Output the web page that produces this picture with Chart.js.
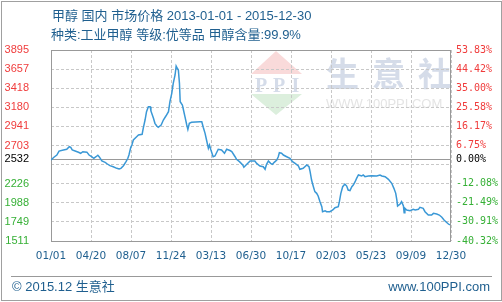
<!DOCTYPE html>
<html lang="zh">
<head>
<meta charset="UTF-8">
<title>甲醇 国内 市场价格</title>
<script src="https://cdn.jsdelivr.net/npm/chart.js"></script>
<style>
  html, body { margin: 0; padding: 0; background: #fff; }
  .wrap { position: relative; width: 502px; height: 302px; overflow: hidden;
          font-family: "Liberation Sans", "Noto Sans CJK SC", sans-serif; color: #1f5f8f; }
  .frame { position: absolute; left: 1px; top: 1px; width: 501px; height: 300px;
           box-sizing: border-box; border: 1px solid #a0a0a0; }
  #chart { position: absolute; left: 0; top: 0; }
  .txt { position: absolute; font-size: 13px; line-height: 16px; white-space: nowrap; }
  .sep { position: absolute; left: 11px; top: 276px; width: 481px; height: 1px; background: #999; }
</style>
</head>
<body>
<div class="wrap">
  <div class="frame"></div>
  <canvas id="chart" width="502" height="302"></canvas>
  <div class="txt" style="left:52px; top:8px;">甲醇 国内 市场价格 2013-01-01 - 2015-12-30</div>
  <div class="txt" style="left:51px; top:27px;">种类:工业甲醇 等级:优等品 甲醇含量:99.9%</div>
  <div class="sep"></div>
  <div class="txt" style="left:12px; top:279px;">© 2015.12 生意社</div>
  <div class="txt" style="right:12px; top:279px;">www.100PPI.com</div>
</div>

<script>
  // price series, x = days since 2013-01-01
  const days = [0, 8, 16, 22, 34, 43, 50, 54, 58, 66,
    75, 81, 87, 98, 104, 111, 117, 123, 128, 132,
    139, 148, 154, 161, 170, 180, 186, 191, 198, 205,
    210, 213, 218, 221, 225, 234, 239, 249, 252, 257,
    261, 266, 271, 273, 280, 284, 289, 293, 301, 307,
    314, 321, 325, 330, 334, 339, 342, 345, 348, 351,
    353, 359, 362, 366, 371, 374, 378, 384, 407, 412,
    416, 421, 425, 430, 433, 437, 443, 448, 457, 466,
    474, 480, 489, 494, 503, 507, 515, 524, 527, 535,
    544, 557, 562, 571, 580, 585, 589, 594, 600, 605,
    610, 617, 621, 624, 630, 635, 644, 653, 660, 667,
    676, 680, 689, 699, 705, 708, 712, 717, 721, 726,
    730, 735, 740, 742, 749, 753, 762, 770, 776, 785,
    788, 792, 797, 803, 808, 812, 817, 822, 826, 831,
    835, 840, 849, 853, 858, 867, 876, 890, 899, 904,
    913, 922, 931, 937, 942, 945, 947, 954, 958, 963,
    965, 967, 972, 981, 990, 995, 1004, 1008, 1017, 1022,
    1031, 1040, 1045, 1054, 1061, 1068, 1074, 1079, 1086, 1090];

  const prices = [2522, 2556, 2584, 2634, 2647, 2656, 2688, 2680, 2647, 2634,
    2618, 2606, 2626, 2620, 2584, 2563, 2543, 2563, 2581, 2560,
    2510, 2493, 2472, 2451, 2438, 2418, 2410, 2418, 2451, 2501,
    2543, 2584, 2680, 2709, 2772, 2813, 2834, 2843, 2918, 3021,
    3125, 3187, 3187, 3134, 3042, 2980, 2946, 2930, 2959, 3021,
    3071, 3125, 3250, 3354, 3479, 3583, 3695, 3667, 3645, 3479,
    3250, 3209, 3146, 3063, 2959, 2905, 2980, 2993, 3000, 3000,
    2930, 2855, 2772, 2668, 2709, 2647, 2563, 2572, 2656, 2647,
    2606, 2656, 2640, 2626, 2563, 2530, 2501, 2460, 2431, 2468,
    2510, 2510, 2480, 2447, 2438, 2406, 2468, 2510, 2480, 2468,
    2493, 2522, 2563, 2613, 2606, 2584, 2563, 2543, 2501, 2480,
    2447, 2406, 2418, 2460, 2438, 2376, 2272, 2189, 2127, 2106,
    2073, 2002, 1939, 1877, 1889, 1877, 1877, 1898, 1927, 1939,
    2002, 2106, 2189, 2222, 2197, 2147, 2139, 2189, 2210, 2251,
    2293, 2335, 2322, 2335, 2314, 2322, 2326, 2322, 2335, 2322,
    2314, 2281, 2231, 2168, 2106, 2023, 1948, 1973, 2002, 1948,
    1864, 1919, 1898, 1889, 1906, 1898, 1906, 1931, 1919, 1877,
    1835, 1835, 1856, 1848, 1835, 1807, 1773, 1752, 1723, 1711];

  const xTickLabels = ["01/01", "04/20", "08/07", "11/24", "03/13", "06/30",
    "10/17", "02/03", "05/23", "09/09", "12/30"];
  const totalDays = 1093; // 2013-01-01 .. 2015-12-30

  const basePrice = 2532;
  const yTicks = [3895, 3656.6, 3418.2, 3179.8, 2941.4, 2703, 2532, 2464.6, 2226.2, 1987.8, 1749.4, 1511];
  const hiddenTick = 2464.6; // grid line only, no label

  const RED = "#f03c3c", GREEN = "#36b036", BLUE_TXT = "#1f5f8f";

  function tickColor(c) {
    const v = c.tick.value;
    if (Math.abs(v - basePrice) < 0.01) return "#000";
    return v > basePrice ? RED : GREEN;
  }

  // watermark, base line and plot frame
  const decor = {
    id: "decor",
    beforeDraw(chart) {
      const ctx = chart.ctx;
      ctx.save();
      // logo triangles
      ctx.fillStyle = "#f9dada";
      ctx.beginPath();
      ctx.moveTo(276, 51); ctx.lineTo(302, 74); ctx.lineTo(251, 74);
      ctx.closePath(); ctx.fill();
      ctx.fillStyle = "#dcefdd";
      ctx.beginPath();
      ctx.moveTo(251, 94); ctx.lineTo(302, 94); ctx.lineTo(276, 115);
      ctx.closePath(); ctx.fill();
      // PPI
      ctx.fillStyle = "#d5dce9";
      ctx.font = "bold 20px 'Liberation Serif'";
      ctx.textAlign = "center";
      ctx.textBaseline = "alphabetic";
      ctx.fillText("P", 261, 92);
      ctx.fillText("P", 279, 92);
      ctx.fillText("I", 295.5, 92);
      // 生意社
      ctx.font = "bold 33px 'Noto Sans CJK SC'";
      ctx.textBaseline = "middle";
      ctx.fillText("生", 342.5, 73);
      ctx.fillText("意", 388.5, 73);
      ctx.fillText("社", 434.5, 73);
      // url
      ctx.fillStyle = "#e4e4e4";
      ctx.font = "13px 'Liberation Sans'";
      ctx.textAlign = "left";
      ctx.fillText("WWW.100PPI.COM", 326, 104);
      ctx.restore();
    },
    beforeDatasetsDraw(chart) {
      const ctx = chart.ctx, a = chart.chartArea;
      const yb = Math.round(chart.scales.y.getPixelForValue(basePrice)) + 0.5;
      ctx.save();
      ctx.strokeStyle = "#999";
      ctx.lineWidth = 1;
      ctx.setLineDash([]);
      ctx.beginPath();
      ctx.moveTo(a.left, yb); ctx.lineTo(a.right, yb);
      ctx.stroke();
      ctx.strokeRect(51.5, 50.5, 399, 191);
      ctx.restore();
    }
  };

  const points = days.map((d, i) => ({ x: d, y: prices[i] }));

  new Chart(document.getElementById("chart").getContext("2d"), {
    type: "line",
    data: {
      datasets: [{
        data: points,
        borderColor: "#3a98d6",
        borderWidth: 1.5,
        pointRadius: 0,
        tension: 0,
        fill: false
      }]
    },
    options: {
      responsive: false,
      animation: false,
      layout: { padding: { top: 50, left: 0, right: 0, bottom: 0 } },
      plugins: { legend: { display: false }, tooltip: { enabled: false } },
      scales: {
        x: {
          type: "linear",
          min: 0,
          max: totalDays,
          afterBuildTicks(s) {
            s.ticks = xTickLabels.map((_, i) => ({ value: i * totalDays / (xTickLabels.length - 1) }));
          },
          afterFit(s) { s.height = 61; },
          grid: { color: "#c8c8c8", lineWidth: 1, drawTicks: false },
          border: { display: false, dash: [3, 2] },
          ticks: {
            autoSkip: false,
            maxRotation: 0,
            padding: 9,
            color: BLUE_TXT,
            font: { family: "DejaVu Sans", size: 10.5 },
            callback: (v, i) => xTickLabels[i]
          }
        },
        y: {
          position: "left",
          min: 1511,
          max: 3895,
          afterBuildTicks(s) { s.ticks = yTicks.map(v => ({ value: v })); },
          afterFit(s) { s.width = 51; },
          grid: { color: "#c8c8c8", lineWidth: 1, drawTicks: false },
          border: { display: false, dash: [3, 2] },
          ticks: {
            autoSkip: false,
            padding: 22,
            color: tickColor,
            font: { family: "Liberation Sans", size: 11 },
            callback: v => (Math.abs(v - hiddenTick) < 0.01 ? "" : String(Math.round(v)))
          }
        },
        y2: {
          position: "right",
          min: 1511,
          max: 3895,
          afterBuildTicks(s) { s.ticks = yTicks.map(v => ({ value: v })); },
          afterFit(s) { s.width = 51; },
          grid: { display: false, drawTicks: false },
          border: { display: false },
          ticks: {
            autoSkip: false,
            padding: 5,
            color: tickColor,
            font: { family: "DejaVu Sans Mono", size: 10 },
            callback: v => (Math.abs(v - hiddenTick) < 0.01 ? "" : ((v - basePrice) / basePrice * 100).toFixed(2) + "%")
          }
        }
      }
    },
    plugins: [decor]
  });
</script>
</body>
</html>
